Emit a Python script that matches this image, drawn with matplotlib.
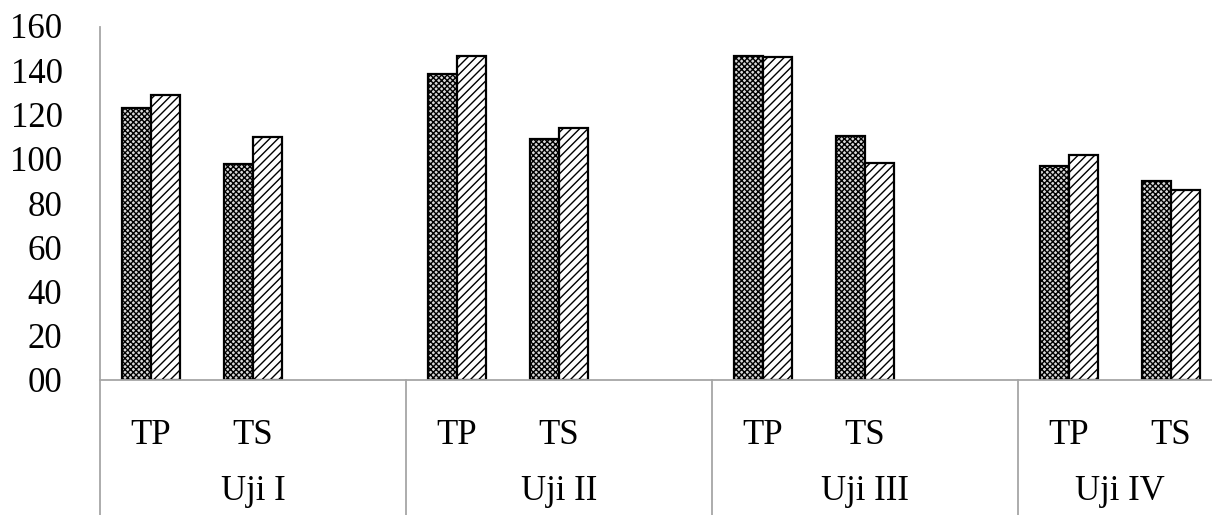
import matplotlib
matplotlib.use("Agg")
import matplotlib.pyplot as plt
import matplotlib.transforms as mtransforms
import numpy as np

groups = ["Uji I", "Uji II", "Uji III", "Uji IV"]
subcats = ["TP", "TS"]
series_dark = [123, 97.5, 138.5, 109, 146.5, 110.5, 96.5, 90]
series_hatch = [129, 110, 146.5, 114, 146, 98, 101.5, 86]
yticks = [0, 20, 40, 60, 80, 100, 120, 140, 160]
ytick_labels = ["00", "20", "40", "60", "80", "100", "120", "140", "160"]

plt.rcParams["font.family"] = ["Liberation Serif", "DejaVu Serif"]
plt.rcParams["hatch.linewidth"] = 1.0

W, H = 1212, 515
fig = plt.figure(figsize=(W / 100, H / 100), dpi=100)
slot = 102
ax = fig.add_axes([100 / W, (H - 380) / H, 1112 / W, 354 / H])

# slots: TP, TS, blank per group (last group has no blank)
pos = []
for g in range(len(groups)):
    pos += [g * 3, g * 3 + 1]
pos = np.array(pos)

bw = 0.285
ax.bar(pos - bw / 2, series_dark, bw, facecolor="#d8d8d8", edgecolor="black",
       hatch="xxxxxx", linewidth=1.6)
ax.bar(pos + bw / 2, series_hatch, bw, facecolor="white", edgecolor="black",
       hatch="////", linewidth=1.6)

ax.set_xlim(-0.5, -0.5 + 1112 / slot)
ax.set_ylim(0, 160)
ax.set_yticks(yticks)
ax.set_yticklabels(ytick_labels)
ax.set_xticks([])
ax.tick_params(axis="y", length=0, pad=27, labelsize=25)

for s in ["top", "right"]:
    ax.spines[s].set_visible(False)
ax.spines["left"].set_visible(False)
ax.spines["bottom"].set_color("#a6a6a6")
ax.spines["bottom"].set_linewidth(1.3)

trans = mtransforms.blended_transform_factory(ax.transData, fig.transFigure)
gray = "#a6a6a6"
# left axis line running down through the label area
ax.plot([-0.5, -0.5], [0, (H - 27) / H], transform=trans, color=gray,
        lw=1.3, clip_on=False)
for xs in [2.5, 5.5, 8.5]:
    ax.plot([xs, xs], [0, (H - 380) / H], transform=trans, color=gray,
            lw=1.3, clip_on=False)

for p, lab in zip(pos, subcats * len(groups)):
    ax.text(p, (H - 435) / H, lab, transform=trans, ha="center", va="center",
            fontsize=25)

group_centers = [1, 4, 7, 9.5]
for c, g in zip(group_centers, groups):
    ax.text(c, (H - 492) / H, g, transform=trans, ha="center", va="center",
            fontsize=25)

fig.savefig("out.png", dpi=100)
